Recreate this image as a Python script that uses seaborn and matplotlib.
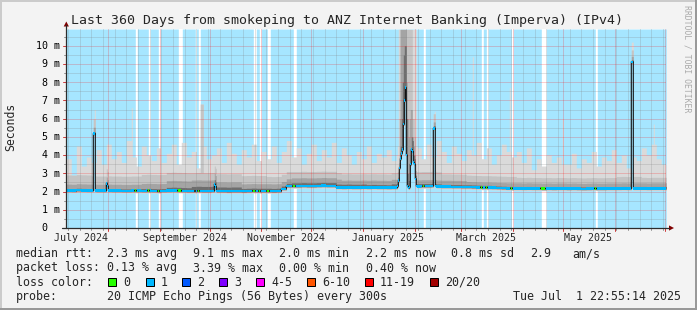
import numpy as np
import matplotlib
matplotlib.use("Agg")
import matplotlib.pyplot as plt
from matplotlib.patches import Rectangle, Polygon
from matplotlib.lines import Line2D
import seaborn as sns
from datetime import datetime, timedelta

sns.set_theme(style="white")
plt.rcParams['font.family'] = ['DejaVu Sans Mono', 'DejaVu Sans']

# ---------------- data ----------------
TITLE = "Last 360 Days from smokeping to ANZ Internet Banking (Imperva) (IPv4)"
START = datetime(2024, 7, 6, 22, 55, 14)
SPAN_DAYS = 360
COL_DAYS = 0.6          # one rrd row per pixel column
BIN_DAYS = 3.0          # resolution of the binned series below
BAND_DAYS = 15.0        # resolution of smoke band thickness

# median rtt (ms), 3-day bins
median_bins = [
    2.06, 2.05, 2.08, 2.07, 2.06, 2.06, 2.05, 2.05, 2.06, 2.05,
    2.05, 2.04, 2.04, 2.05, 2.05, 2.04, 2.05, 2.04, 2.03, 2.04,
    2.05, 2.06, 2.05, 2.04, 2.03, 2.03, 2.04, 2.03, 2.03, 2.04,
    2.03, 2.03, 2.02, 2.03, 2.03, 2.02, 2.03, 2.04, 2.03, 2.03,
    2.03, 2.02, 2.03, 2.15, 2.30, 2.30, 2.30, 2.31, 2.30, 2.30,
    2.31, 2.32, 2.31, 2.31, 2.23, 2.22, 2.23, 2.22, 2.22, 2.23,
    2.22, 2.23, 2.22, 2.22, 2.21, 2.22, 2.22, 2.20, 2.25, 2.28,
    2.29, 2.30, 2.30, 2.31, 2.28, 2.27, 2.27, 2.26, 2.26, 2.25,
    2.25, 2.24, 2.23, 2.22, 2.22, 2.21, 2.20, 2.19, 2.18, 2.18,
    2.18, 2.17, 2.18, 2.17, 2.17, 2.16, 2.17, 2.16, 2.17, 2.17,
    2.16, 2.17, 2.16, 2.15, 2.16, 2.17, 2.16, 2.16, 2.17, 2.17,
    2.17, 2.18, 2.17, 2.18, 2.18, 2.18, 2.17, 2.18, 2.18, 2.18,
]
# short median excursions (day, ms)
median_spike_day = [16.2, 16.8, 24.0, 24.6, 88.8, 89.4,
                    198.6, 199.2, 199.8, 200.4, 201.0, 201.6, 202.2, 202.8, 203.4, 204.0,
                    204.6, 205.2, 205.8, 206.4, 207.0, 207.6, 208.2, 208.8, 209.4, 210.0,
                    220.2, 220.8, 339.0, 339.6]
median_spike_val = [5.18, 5.18, 2.45, 2.30, 2.40, 2.28,
                    2.30, 2.60, 3.30, 3.80, 4.10, 4.30, 5.70, 7.00, 7.70, 4.00,
                    2.30, 2.20, 2.25, 3.50, 4.30, 4.20, 3.60, 3.50, 2.70, 2.30,
                    5.47, 5.47, 9.12, 9.12]

# highest ping (ms), 3-day bins
smoke_max_bins = [
    3.8, 2.9, 4.5, 3.4, 3.9, 3.6, 4.3, 3.5, 4.6, 3.8,
    4.2, 3.6, 4.8, 3.9, 3.4, 4.5, 4.0, 3.7, 4.4, 3.6,
    4.1, 4.6, 3.5, 4.7, 3.9, 4.2, 3.3, 4.5, 3.8, 4.0,
    4.4, 3.6, 4.7, 4.1, 3.5, 4.3, 3.9, 4.6, 3.7, 4.2,
    3.8, 4.5, 3.6, 4.2, 4.8, 3.9, 4.4, 3.5, 4.1, 4.6,
    3.7, 4.3, 3.9, 4.7, 3.6, 4.4, 4.0, 3.5, 4.2, 3.8,
    4.5, 3.6, 4.1, 3.9, 4.3, 3.7, 4.0, 3.8, 4.2, 4.5,
    4.4, 3.8, 4.6, 3.9, 4.8, 4.2, 3.6, 4.5, 4.1, 3.7,
    4.3, 4.0, 4.7, 3.8, 4.4, 3.5, 4.0, 4.6, 4.2, 3.9,
    4.2, 3.6, 4.4, 3.2, 3.8, 3.4, 4.0, 3.6, 3.9, 3.5,
    3.5, 4.1, 3.3, 3.8, 3.6, 4.2, 3.4, 3.9, 3.7, 4.3,
    3.6, 4.0, 3.3, 3.9, 3.7, 4.4, 4.0, 4.6, 3.8, 3.5,
]
# single-row outliers of the highest ping (day, ms)
outlier_day = [16.8, 38.7, 220.8, 243.6, 265.8, 297.9, 339.0, 339.6, 352.2]
outlier_top = [6.5, 6.6, 6.4, 9.4, 7.7, 6.0, 10.2, 10.2, 5.7]
# mid-grey column (day, ms)
column_day = [80.4, 81.0, 81.6]
column_top = [6.8, 6.8, 6.8]

# smoke band thickness above the median (ms), 15-day bins
band_dark = [0.10, 0.10, 0.10, 0.12, 0.18, 0.25, 0.22, 0.15, 0.15, 0.18, 0.18, 0.18,
             0.16, 0.20, 0.14, 0.12, 0.12, 0.10, 0.10, 0.10, 0.10, 0.10, 0.10, 0.10]
band_mid = [0.35, 0.35, 0.35, 0.40, 0.55, 0.60, 0.50, 0.40, 0.40, 0.45, 0.45, 0.40,
            0.40, 0.45, 0.35, 0.35, 0.30, 0.30, 0.30, 0.30, 0.30, 0.30, 0.30, 0.30]
band_light = [0.85, 0.80, 0.80, 0.90, 1.00, 1.00, 0.95, 0.85, 0.80, 0.80, 0.80, 0.75,
              0.75, 0.80, 0.80, 0.70, 0.65, 0.65, 0.60, 0.60, 0.60, 0.60, 0.65, 0.60]
# band thickness below the median (max, light, mid, dark bands)
band_below = [0.12, 0.09, 0.06, 0.035]

# late-January burst: smoke band tops (ms) per row, same days as median burst
burst_day = [198.6, 199.2, 199.8, 200.4, 201.0, 201.6, 202.2, 202.8, 203.4, 204.0,
             204.6, 205.2, 205.8, 206.4, 207.0, 207.6, 208.2, 208.8, 209.4, 210.0]
burst_max = [4.5, 10.9, 10.9, 10.9, 10.9, 10.9, 10.9, 10.9, 10.9, 10.9,
             10.9, 10.9, 10.9, 10.9, 10.9, 10.9, 10.9, 10.9, 10.9, 4.5]
burst_light = [3.0, 3.5, 10.9, 10.9, 10.9, 10.9, 10.9, 10.9, 10.9, 10.9,
               10.9, 10.9, 10.9, 10.9, 10.9, 6.0, 6.0, 5.0, 3.5, 3.0]
burst_mid = [2.6, 3.0, 6.0, 10.9, 10.9, 10.9, 10.9, 10.9, 10.9, 8.0,
             6.0, 5.0, 6.0, 6.5, 6.5, 5.0, 4.5, 4.0, 3.0, 2.6]
burst_dark = [2.4, 2.8, 3.6, 4.5, 6.0, 8.0, 9.5, 10.0, 10.0, 6.0,
              3.0, 2.6, 3.0, 4.0, 5.0, 4.8, 4.0, 3.8, 2.9, 2.4]

# periods without packet loss (days from start)
zero_loss_start = [41.4, 49.2, 55.2, 67.5, 77.4, 79.2, 112.2, 116.1, 120.9, 136.2,
                   214.2, 249.0, 252.0, 267.0, 285.0, 317.4]
zero_loss_end = [42.3, 50.4, 56.1, 69.3, 78.0, 80.1, 113.4, 116.7, 122.1, 137.4,
                 215.4, 249.9, 252.9, 267.9, 288.0, 318.3]

Y_MAX = 10.92
MEDIAN_HALF = 0.07      # half height of the loss-coloured median band (ms)
y_major = [0, 1, 2, 3, 4, 5, 6, 7, 8, 9, 10]
y_labels = ["0", "1 m", "2 m", "3 m", "4 m", "5 m", "6 m", "7 m", "8 m", "9 m", "10 m"]
x_label_months = [(2024, 7), (2024, 9), (2024, 11), (2025, 1), (2025, 3), (2025, 5)]

median_stats = ["2.3 ms avg", "9.1 ms max", "2.0 ms min", "2.2 ms now", "0.8 ms sd", "2.9", "am/s"]
loss_stats = ["0.13 % avg", "3.39 % max", "0.00 % min", "0.40 % now"]
loss_labels = ["0", "1", "2", "3", "4-5", "6-10", "11-19", "20/20"]
loss_colors = ["#26ff00", "#00b8ff", "#0059ff", "#7e00ff", "#ff00ff", "#ff5500", "#ff0000", "#a10000"]
probe_text = "20 ICMP Echo Pings (56 Bytes) every 300s"
stamp_text = "Tue Jul  1 22:55:14 2025"

# ---------------- build series ----------------
ncol = int(round(SPAN_DAYS / COL_DAYS))
rep_bin = int(round(BIN_DAYS / COL_DAYS))
rep_band = int(round(BAND_DAYS / COL_DAYS))
edges = np.arange(ncol + 1) * COL_DAYS

def col(d):
    return min(ncol - 1, int(round(d / COL_DAYS)))

med = np.repeat(np.array(median_bins, float), rep_bin)[:ncol]
for d, v in zip(median_spike_day, median_spike_val):
    med[col(d)] = v

dark_top = med + np.repeat(band_dark, rep_band)[:ncol]
mid_top = med + np.repeat(band_mid, rep_band)[:ncol]
light_top = med + np.repeat(band_light, rep_band)[:ncol]
max_top = np.maximum(np.repeat(np.array(smoke_max_bins, float), rep_bin)[:ncol], light_top)
for d, v in zip(outlier_day, outlier_top):
    max_top[col(d)] = max(max_top[col(d)], v)
for d, v in zip(column_day, column_top):
    light_top[col(d)] = max(light_top[col(d)], v)
    max_top[col(d)] = max(max_top[col(d)], v)
for i, d in enumerate(burst_day):
    c = col(d)
    max_top[c] = max(max_top[c], burst_max[i])
    light_top[c] = max(light_top[c], burst_light[i])
    mid_top[c] = max(mid_top[c], burst_mid[i])
    dark_top[c] = max(dark_top[c], burst_dark[i])

loss = np.ones(ncol)
for s, e in zip(zero_loss_start, zero_loss_end):
    loss[int(np.floor(s / COL_DAYS)):int(np.ceil(e / COL_DAYS))] = 0

def ext(a):
    return np.append(a, a[-1])

# ---------------- figure ----------------
W, H = 697, 310
fig = plt.figure(figsize=(W / 100, H / 100), dpi=100, facecolor="#f3f3f3")

def fx(x):
    return x / W

def fy(y):
    return 1 - y / H

L, R, T, B = 66.3, 666.3, 29.0, 228.0
ax = fig.add_axes([fx(L), fy(B), (R - L) / W, (B - T) / H])
ax.set_facecolor("white")
for s in ax.spines.values():
    s.set_visible(False)
ax.set_xlim(0, SPAN_DAYS)
ax.set_ylim(0, Y_MAX)

# loss background
bg = np.where(loss > 0, Y_MAX, 0.0)
ax.fill_between(edges, 0, ext(bg), step="post", color="#a6e6ff", lw=0, zorder=1)

# smoke
layers = [
    (max_top, band_below[0], "#dadada"),
    (light_top, band_below[1], "#c4c4c4"),
    (mid_top, band_below[2], "#a4a4a4"),
    (dark_top, band_below[3], "#6e6e6e"),
]
for top, below, color in layers:
    ax.fill_between(edges, ext(med - below), ext(np.minimum(top, Y_MAX)), step="post",
                    color=color, lw=0, zorder=2)

# grid
dot = (0, (1, 1))
for v in np.arange(0.5, Y_MAX, 1.0):
    ax.axhline(v, color="#808080", alpha=0.45, lw=0.72, ls=dot, zorder=3)
for v in y_major[1:]:
    ax.axhline(v, color="#ff0000", alpha=0.38, lw=0.72, ls=dot, zorder=3)

def dday(dt):
    return (dt - START).total_seconds() / 86400.0

week_days = []
d0 = datetime(2024, 7, 8)
while dday(d0) < SPAN_DAYS:
    week_days.append(dday(d0))
    d0 += timedelta(days=7)
month_days = []
for y, m in [(2024, 8), (2024, 9), (2024, 10), (2024, 11), (2024, 12), (2025, 1), (2025, 2),
             (2025, 3), (2025, 4), (2025, 5), (2025, 6), (2025, 7)]:
    month_days.append(dday(datetime(y, m, 1)))
for d in week_days:
    ax.axvline(d, color="#808080", alpha=0.45, lw=0.72, ls=dot, zorder=3)
for d in month_days:
    ax.axvline(d, color="#ff0000", alpha=0.38, lw=0.72, ls=dot, zorder=3)

# median: thin dark line, then loss-coloured band on top
sns.lineplot(x=edges, y=ext(med), drawstyle="steps-post", color="#111111", lw=0.8,
             estimator=None, sort=False, ax=ax, zorder=4)
lossy = ext(loss) > 0
ax.fill_between(edges, ext(med - MEDIAN_HALF), ext(med + MEDIAN_HALF), where=lossy,
                step="post", color=loss_colors[1], lw=0, zorder=5)
ax.fill_between(edges, ext(med - MEDIAN_HALF), ext(med + MEDIAN_HALF), where=~lossy,
                step="post", color=loss_colors[0], lw=0, zorder=5)

ax.set_xticks([])
ax.set_yticks([])
ax.set_xlabel("")
ax.set_ylabel("")

# ticks
for d in week_days:
    fig.add_artist(Line2D([fx(L + d / SPAN_DAYS * (R - L))] * 2, [fy(B), fy(B + 2)],
                          color="#999999", lw=0.72))
for d in month_days:
    fig.add_artist(Line2D([fx(L + d / SPAN_DAYS * (R - L))] * 2, [fy(B), fy(B + 3)],
                          color="#d04040", lw=0.72))
for v in np.arange(0.5, Y_MAX, 1.0):
    yy = B - v / Y_MAX * (B - T)
    fig.add_artist(Line2D([fx(L - 2), fx(L)], [fy(yy)] * 2, color="#999999", lw=0.72))
for v in y_major:
    yy = B - v / Y_MAX * (B - T)
    fig.add_artist(Line2D([fx(L - 3.5), fx(L)], [fy(yy)] * 2, color="#d04040", lw=0.72))

# axes lines and arrows
axis_c = "#2c2c2c"
fig.add_artist(Line2D([fx(L), fx(L)], [fy(B), fy(25)], color=axis_c, lw=0.9))
fig.add_artist(Line2D([fx(L - 4), fx(669)], [fy(B), fy(B)], color=axis_c, lw=0.9))
fig.add_artist(Polygon([[fx(L), fy(21.5)], [fx(L - 2.6), fy(26.5)], [fx(L + 2.6), fy(26.5)]],
                       closed=True, color="#7f0000", lw=0))
fig.add_artist(Polygon([[fx(674), fy(B)], [fx(669), fy(B - 2.6)], [fx(669), fy(B + 2.6)]],
                       closed=True, color="#7f0000", lw=0))

# y tick labels
for v, lab in zip(y_major, y_labels):
    yy = B - v / Y_MAX * (B - T)
    xr = 59.5 if v > 0 else 47.5
    fig.text(fx(xr), fy(yy + 3.3), lab, ha="right", va="baseline", fontsize=7.2,
             color="black", family="DejaVu Sans Mono")
# x tick labels
for y, m in x_label_months:
    d = dday(datetime(y, m, 16))
    xx = L + d / SPAN_DAYS * (R - L)
    fig.text(fx(xx), fy(241), datetime(y, m, 16).strftime("%B %Y"), ha="center",
             va="baseline", fontsize=7.2, family="DejaVu Sans Mono")

# title, axis label, watermark
fig.text(fx(347.2), fy(24), TITLE, ha="center", va="baseline", fontsize=9.5,
         family="DejaVu Sans Mono")
fig.text(fx(11), fy(127), "Seconds", rotation=90, ha="center", va="center", fontsize=8.3,
         family="DejaVu Sans Mono")
fig.text(fx(687.5), fy(5), "RRDTOOL / TOBI OETIKER", rotation=270, ha="center", va="top",
         fontsize=5.9, color="#aaaaaa", family="DejaVu Sans Mono")

# legend
LF = 8.4
rows_y = [257.3, 271.5, 285.7, 299.9]
fig.text(fx(16), fy(rows_y[0]), "median rtt:", fontsize=LF, va="baseline")
for xx, s in zip([107, 193, 279, 366, 451, 530, 572], median_stats):
    fig.text(fx(xx), fy(rows_y[0]), s, fontsize=LF, va="baseline")
fig.text(fx(16), fy(rows_y[1]), "packet loss:", fontsize=LF, va="baseline")
for xx, s in zip([107, 193, 279, 366], loss_stats):
    fig.text(fx(xx), fy(rows_y[1]), s, fontsize=LF, va="baseline")
fig.text(fx(16), fy(rows_y[2]), "loss color:", fontsize=LF, va="baseline")
box_x = [108.3, 145.7, 182.3, 219.3, 256.0, 307.3, 365.0, 430.0]
for bx, lab, c in zip(box_x, loss_labels, loss_colors):
    fig.add_artist(Rectangle((fx(bx), fy(285.8)), 8 / W, 8.3 / H, facecolor=c,
                             edgecolor="black", lw=0.72))
    fig.text(fx(bx + 15), fy(rows_y[2]), lab, fontsize=LF, va="baseline")
fig.text(fx(16), fy(rows_y[3]), "probe:", fontsize=LF, va="baseline")
fig.text(fx(107), fy(rows_y[3]), probe_text, fontsize=LF, va="baseline")
fig.text(fx(512.7), fy(rows_y[3]), stamp_text, fontsize=LF, va="baseline")

# frame
fig.add_artist(Rectangle((0, fy(2)), 1, 2 / H, facecolor="#cbcbcb", lw=0))
fig.add_artist(Rectangle((0, 0), 2 / W, 1, facecolor="#cbcbcb", lw=0))
fig.add_artist(Rectangle((0, 0), 1, 2.5 / H, facecolor="#999999", lw=0))
fig.add_artist(Rectangle((fx(W - 2.5), 0), 2.5 / W, 1, facecolor="#999999", lw=0))

fig.savefig("out.png", dpi=100, facecolor=fig.get_facecolor())
